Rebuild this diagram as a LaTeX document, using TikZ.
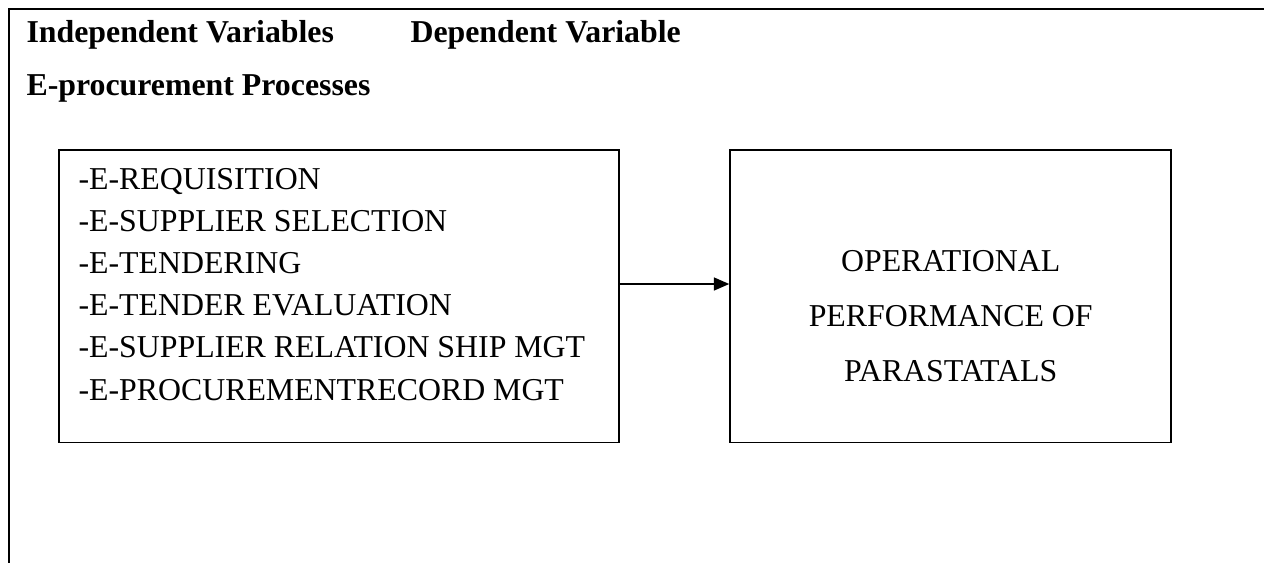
\documentclass[tikz,border=0pt]{standalone}
\usepackage{fontspec}
\setmainfont{Liberation Serif}
\usetikzlibrary{positioning,arrows.meta}

\begin{document}
\begin{tikzpicture}[
    x=0.377pt, y=-0.377pt,
    frame/.style={line width=0.9pt},
    varbox/.style={
        rectangle,
        draw,
        line width=0.7pt,
        minimum height=110.3pt,
        inner sep=0pt
    },
    heading/.style={
        font=\fontsize{12}{14}\selectfont\bfseries,
        inner sep=0pt
    },
    listtext/.style={
        align=left,
        font=\fontsize{12}{15.9}\selectfont,
        inner sep=0pt
    },
    resulttext/.style={
        align=center,
        font=\fontsize{12}{20.7}\selectfont,
        inner sep=0pt
    },
    arrow/.style={-{Triangle[length=5.8pt,width=4.8pt]}, line width=0.8pt}
]
    \useasboundingbox (0,0) rectangle (1264,563);

    % Frame
    \draw[frame] (1264,9) -- (9,9) -- (9,563);

    % Headings
    \node[heading, anchor=base west] (indep) at (26,42) {Independent Variables};
    \node[heading, anchor=base west] (dep) at (410,42) {Dependent Variable};
    \node[heading, anchor=base west] (eproc) at (26,95) {E-procurement Processes};

    % Boxes
    \node[varbox, minimum width=211.1pt, anchor=north west] (procbox) at (58,149) {};
    \node[varbox, minimum width=166.2pt, right=41.3pt of procbox] (perfbox) {};

    % Box texts (base = last line)
    \node[listtext, anchor=base west] (proclist) at (78,400)
        {-E-REQUISITION\\-E-SUPPLIER SELECTION\\-E-TENDERING\\-E-TENDER EVALUATION\\-E-SUPPLIER RELATION SHIP MGT\\-E-PROCUREMENTRECORD MGT};
    \node[resulttext, anchor=base] (perftext) at (perfbox.center |- 0,381)
        {OPERATIONAL\\PERFORMANCE OF\\PARASTATALS};

    % Arrow
    \draw[arrow] (procbox.east |- 0,284) -- (perfbox.west |- 0,284);
\end{tikzpicture}
\end{document}
